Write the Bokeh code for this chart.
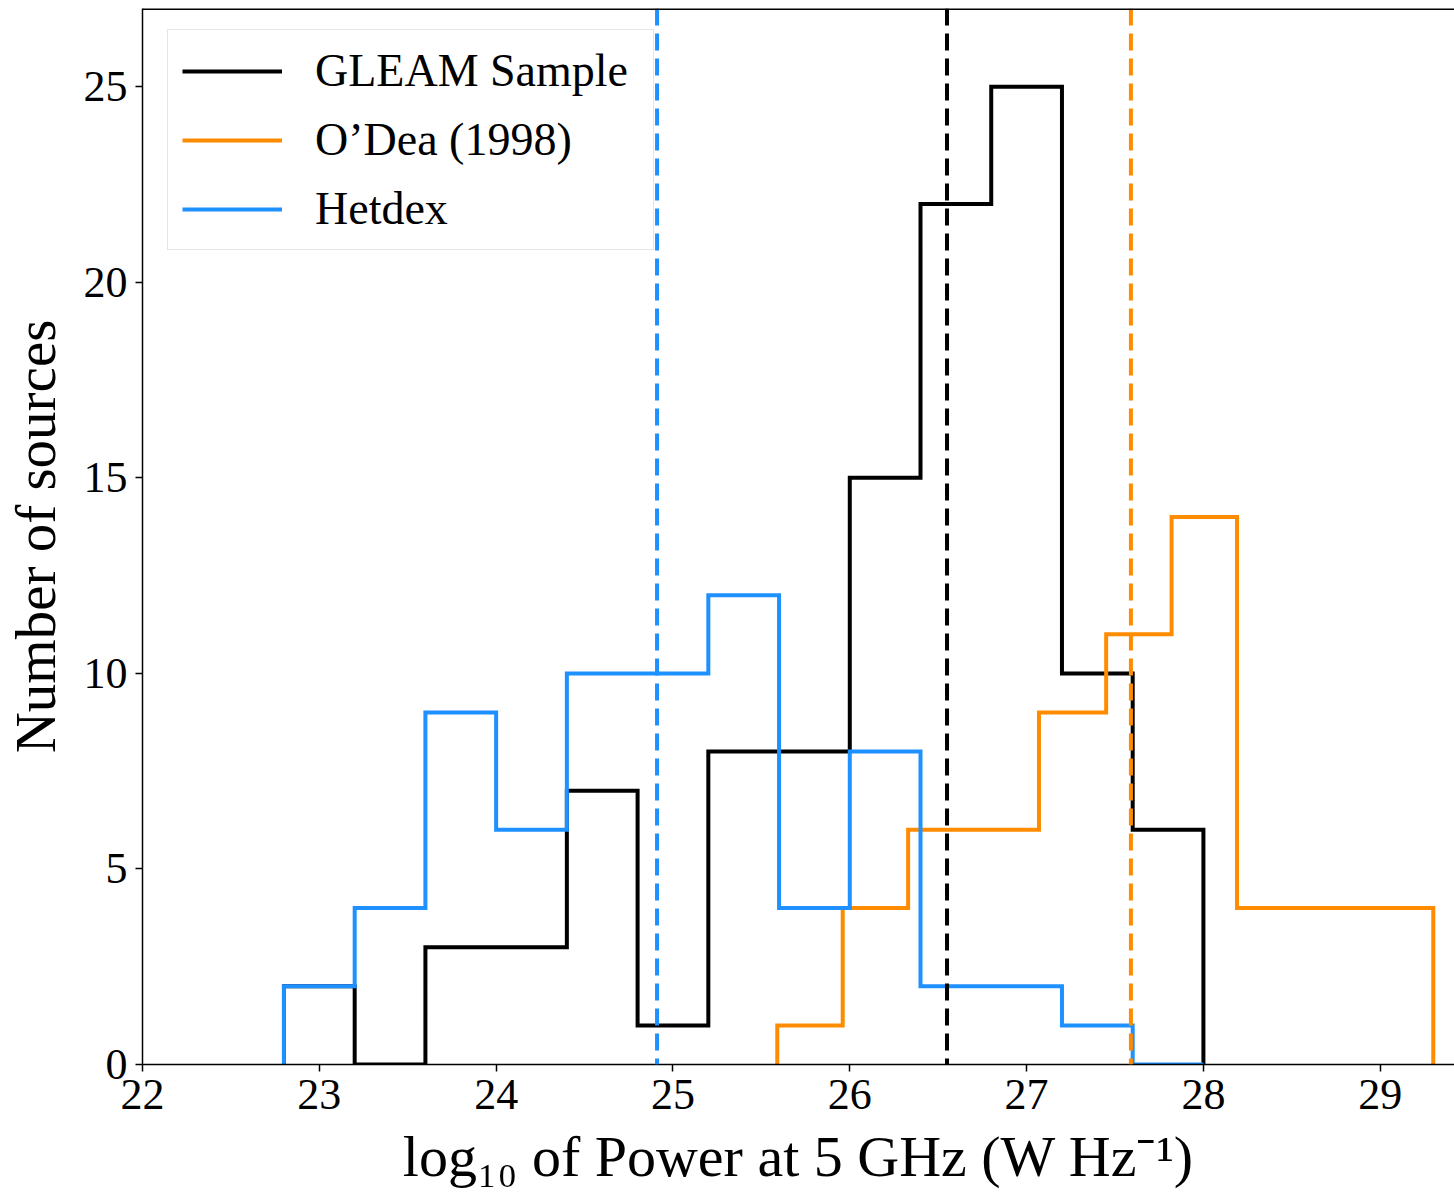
import numpy as np
from bokeh.plotting import figure
from bokeh.models import Span, Legend, LegendItem, FixedTicker, Range1d
from bokeh.embed import file_html
from bokeh.resources import INLINE

# ---- data ----
gleam_edges = [22.8, 23.2, 23.6, 24.0, 24.4, 24.8, 25.2, 25.6, 26.0, 26.4, 26.8, 27.2, 27.6, 28.0]
gleam_counts = [2, 0, 3, 3, 7, 1, 8, 8, 15, 22, 25, 10, 6]

odea_edges = [25.59, 25.96, 26.33, 26.70, 27.07, 27.45, 27.82, 28.19, 28.56, 28.93, 29.30]
odea_counts = [1, 4, 6, 6, 9, 11, 14, 4, 4, 4]

hetdex_edges = [22.8, 23.2, 23.6, 24.0, 24.4, 24.8, 25.2, 25.6, 26.0, 26.4, 26.8, 27.2, 27.6, 28.0]
hetdex_counts = [2, 4, 9, 6, 10, 10, 12, 4, 8, 2, 2, 1, 0]

gleam_median = 26.55
odea_median = 27.59
hetdex_median = 24.91

series_names = ["GLEAM Sample", "O\u2019Dea (1998)", "Hetdex"]
series_colors = ["black", "#FF8C00", "#1E90FF"]

x_ticks = [22, 23, 24, 25, 26, 27, 28, 29]
y_ticks = [0, 5, 10, 15, 20, 25]

FONT = "Liberation Serif"


def outline(edges, counts):
    e = np.asarray(edges, dtype=float)
    c = np.asarray(counts, dtype=float)
    xs = np.repeat(e, 2)
    ys = np.concatenate([[0.0], np.repeat(c, 2), [0.0]])
    return xs, ys


p = figure(
    frame_width=1312, frame_height=1056,
    x_range=Range1d(22, 29.42), y_range=Range1d(0, 27),
    output_backend="svg", toolbar_location=None,
    min_border_left=142, min_border_right=0, min_border_top=8, min_border_bottom=137,
)
p.background_fill_color = "white"
p.border_fill_color = "white"
p.outline_line_color = None
p.xgrid.visible = False
p.ygrid.visible = False

renderers = []
for edges, counts, col in zip([gleam_edges, odea_edges, hetdex_edges],
                              [gleam_counts, odea_counts, hetdex_counts],
                              series_colors):
    xs, ys = outline(edges, counts)
    r = p.line(xs, ys, line_color=col, line_width=4, line_join="miter")
    renderers.append(r)

for loc, col in zip([gleam_median, odea_median, hetdex_median], series_colors):
    p.add_layout(Span(location=loc, dimension="height", line_color=col,
                      line_width=4, line_dash="17 8"))

# top spine
p.add_layout(Span(location=27, dimension="width", line_color="black", line_width=3))

# axes
p.xaxis.ticker = FixedTicker(ticks=x_ticks)
p.yaxis.ticker = FixedTicker(ticks=y_ticks)
for ax in [p.xaxis[0], p.yaxis[0]]:
    ax.axis_line_color = "black"
    ax.axis_line_width = 1.5
    ax.major_tick_line_color = "black"
    ax.major_tick_line_width = 1.5
    ax.major_tick_out = 7
    ax.major_tick_in = 0
    ax.minor_tick_line_color = None
    ax.major_label_text_font = FONT
    ax.major_label_text_font_size = "44px"
    ax.major_label_text_color = "black"
    ax.axis_label_text_font = FONT
    ax.axis_label_text_font_style = "normal"
    ax.axis_label_text_color = "black"
    ax.major_label_standoff = 8

p.xaxis.axis_label = "log\u2081\u2080 of Power at 5 GHz (W Hz\u207b\u00b9)"
p.xaxis.axis_label_text_font_size = "58px"
p.xaxis.axis_label_standoff = 12
p.yaxis.axis_label = "Number of sources"
p.yaxis.axis_label_text_font_size = "57px"
p.yaxis.axis_label_standoff = 14

items = [LegendItem(label=n, renderers=[r]) for n, r in zip(series_names, renderers)]
legend = Legend(items=items, location=(25, 814))
legend.label_text_font = FONT
legend.label_text_font_size = "46px"
legend.label_text_color = "black"
legend.glyph_width = 100
legend.glyph_height = 50
legend.label_height = 50
legend.label_width = 324
legend.label_standoff = 33
legend.spacing = 16
legend.padding = 14
legend.margin = 0
legend.border_line_color = "#cccccc"
legend.border_line_width = 1.5
legend.background_fill_alpha = 0.8
p.add_layout(legend)

open("out.html", "w").write(file_html(p, INLINE))
